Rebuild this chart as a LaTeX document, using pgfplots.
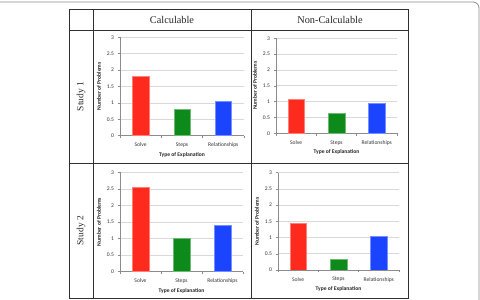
\documentclass[border=0pt]{standalone}
\usepackage{fontspec}
\setmainfont{Carlito}
\newfontfamily\tnr{Liberation Serif}
\usepackage{pgfplots}
\pgfplotsset{compat=1.18}
\definecolor{barred}{HTML}{FF2A1E}
\definecolor{bargreen}{HTML}{0E8A1A}
\definecolor{barblue}{HTML}{1A44FF}
\definecolor{gridc}{HTML}{D9D9D9}
\definecolor{axc}{HTML}{8C8C8C}
\definecolor{tblc}{HTML}{303030}
\pgfplotsset{mychart/.style={
  scale only axis, anchor=south west,
  /pgf/number format/assume math mode=true,
  ymin=0, ymax=3, xmin=-0.5, xmax=2.5,
  ytick={0,0.5,1,1.5,2,2.5,3},
  xtick={0,1,2}, xticklabels={Solve,Steps,Relationships},
  minor xtick={-0.5,0.5,1.5,2.5},
  axis x line*=bottom, axis y line*=left,
  axis line style={draw=axc, line width=0.6pt, -},
  tick align=outside,
  major tick length=2.5pt, minor tick length=2.5pt,
  every tick/.style={draw=axc, line width=0.5pt},
  major x tick style={draw=none},
  ymajorgrids, major grid style={draw=gridc, line width=0.6pt},
  ticklabel style={font=\fontsize{5.6}{6.5}\selectfont, text=black!80},
  xticklabel style={yshift=-1.2pt},
  ylabel={Number of Problems}, xlabel={Type of Explanation},
  label style={font=\bfseries\fontsize{5.6}{6.5}\selectfont, text=black!85},
  ylabel style={yshift=-1pt},
  xlabel style={yshift=2.5pt},
  bar width=16.5pt,
}}
\begin{document}
\begin{tikzpicture}[x=1pt,y=1pt]
\clip (0,0) rectangle (480,300);
\path (0,0) rectangle (480,300);
\draw[draw=black!45, line width=0.8pt, rounded corners=6pt] (-8,-20) rectangle (479,298);
% table
\draw[tblc, line width=0.9pt] (69,1.5) rectangle (408,291);
\draw[tblc, line width=0.9pt] (69,270) -- (408,270);
\draw[tblc, line width=0.9pt] (69,136.7) -- (408,136.7);
\draw[tblc, line width=0.9pt] (93.3,1.5) -- (93.3,291);
\draw[tblc, line width=0.9pt] (251.7,1.5) -- (251.7,291);
\node[font=\tnr\fontsize{10.3}{12}\selectfont, text=black!85] at (172,280.5) {Calculable};
\node[font=\tnr\fontsize{10.3}{12}\selectfont, text=black!85] at (330,280.5) {Non-Calculable};
\node[font=\tnr\fontsize{9.5}{12}\selectfont, text=black!85, rotate=90] at (81,203.5) {Study 1};
\node[font=\tnr\fontsize{9.5}{12}\selectfont, text=black!85, rotate=90] at (81,69.3) {Study 2};

\begin{axis}[mychart, at={(120pt,164.3pt)}, width=124pt, height=98.4pt]
\addplot[ybar, bar shift=0pt, fill=barred, draw=barred!60] coordinates {(0,1.80)};
\addplot[ybar, bar shift=0pt, fill=bargreen, draw=bargreen!60] coordinates {(1,0.81)};
\addplot[ybar, bar shift=0pt, fill=barblue, draw=barblue!60] coordinates {(2,1.06)};
\end{axis}

\begin{axis}[mychart, at={(276pt,166.7pt)}, width=121pt, height=95pt]
\addplot[ybar, bar shift=0pt, fill=barred, draw=barred!60] coordinates {(0,1.07)};
\addplot[ybar, bar shift=0pt, fill=bargreen, draw=bargreen!60] coordinates {(1,0.63)};
\addplot[ybar, bar shift=0pt, fill=barblue, draw=barblue!60] coordinates {(2,0.95)};
\end{axis}

\begin{axis}[mychart, at={(120pt,28.3pt)}, width=123pt, height=99.4pt]
\addplot[ybar, bar shift=0pt, fill=barred, draw=barred!60] coordinates {(0,2.55)};
\addplot[ybar, bar shift=0pt, fill=bargreen, draw=bargreen!60] coordinates {(1,1.00)};
\addplot[ybar, bar shift=0pt, fill=barblue, draw=barblue!60] coordinates {(2,1.41)};
\end{axis}

\begin{axis}[mychart, at={(278pt,30pt)}, width=121pt, height=97.3pt]
\addplot[ybar, bar shift=0pt, fill=barred, draw=barred!60] coordinates {(0,1.44)};
\addplot[ybar, bar shift=0pt, fill=bargreen, draw=bargreen!60] coordinates {(1,0.33)};
\addplot[ybar, bar shift=0pt, fill=barblue, draw=barblue!60] coordinates {(2,1.05)};
\end{axis}
\end{tikzpicture}
\end{document}
